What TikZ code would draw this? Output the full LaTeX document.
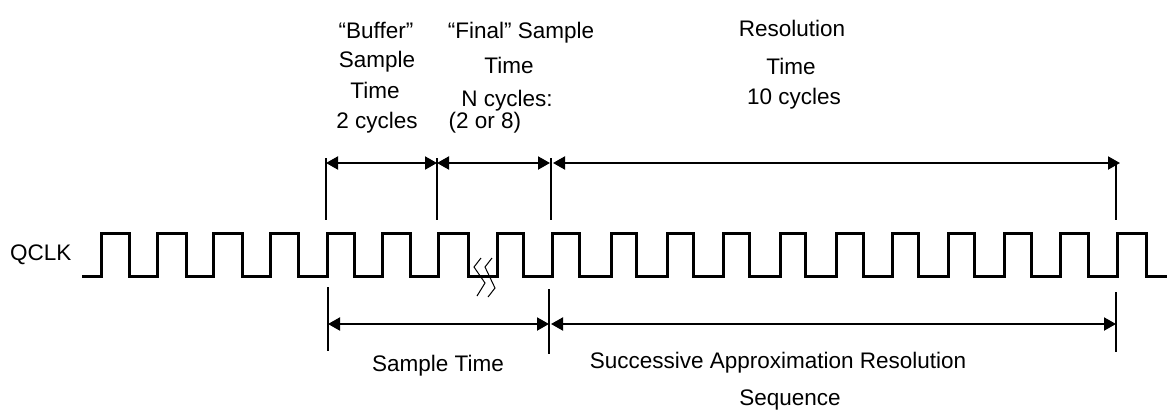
\documentclass[tikz,border=0pt]{standalone}
\usepackage{fontspec}
\setmainfont{Liberation Sans}
\usetikzlibrary{arrows.meta}
\begin{document}
\begin{tikzpicture}[x=1pt,y=-1pt,
  lbl/.style={inner sep=0pt, font=\fontsize{22.5}{27}\selectfont, anchor=base},
  clk/.style={line width=3pt, line join=miter},
  ext/.style={line width=2pt},
  dimarr/.style={line width=2pt, {Triangle[length=12pt,width=13pt]}-{Triangle[length=12pt,width=13pt]}},
  brk/.style={line width=1pt}]
\useasboundingbox (0,0) rectangle (1167,410);

% ---- clock waveform
\draw[clk] (82,276)
  foreach \r/\f in {101/129,157/186,213/242,270/298,327/354,382/410,438/468,497/523,552/579,611/636,667/693,723/749,780/805,836/863,892/918,948/974,1004/1031,1060/1088,1117/1146}
  { -- (\r,276) -- (\r,233) -- (\f,233) -- (\f,276) } -- (1167,276);

% ---- break mark
\draw[brk] (481,258) -- (474,267) -- (485,283) -- (477,296);
\draw[brk] (492,258) -- (485,267) -- (495,288) -- (488,297);

% ---- top extension lines
\coordinate (ta1) at (326,158); \coordinate (tb1) at (326,220);
\coordinate (ta2) at (437,158); \coordinate (tb2) at (437,220);
\coordinate (ta3) at (551,158); \coordinate (tb3) at (551,220);
\coordinate (ta4) at (1116,164); \coordinate (tb4) at (1116,220);
\draw[ext] (ta1) -- (tb1);
\draw[ext] (ta2) -- (tb2);
\draw[ext] (ta3) -- (tb3);
\draw[ext] (ta4) -- (tb4);

% ---- top dimension arrows
\coordinate (t1) at (326,163);
\coordinate (t2) at (437,163);
\coordinate (t3l) at (550,163);
\coordinate (t3r) at (553,163);
\coordinate (t4) at (1120,163);
\draw[dimarr] (t1) -- (t2);
\draw[dimarr] (t2) -- (t3l);
\draw[dimarr] (t3r) -- (t4);

% ---- bottom extension lines
\coordinate (ba1) at (328,287); \coordinate (bb1) at (328,351);
\coordinate (ba2) at (549,289); \coordinate (bb2) at (549,354);
\coordinate (ba3) at (1116,292); \coordinate (bb3) at (1116,352);
\draw[ext] (ba1) -- (bb1);
\draw[ext] (ba2) -- (bb2);
\draw[ext] (ba3) -- (bb3);

% ---- bottom dimension arrows
\coordinate (b1) at (328,324);
\coordinate (b2l) at (549,324);
\coordinate (b2r) at (551,324);
\coordinate (b3) at (1116,324);
\draw[dimarr] (b1) -- (b2l);
\draw[dimarr] (b2r) -- (b3);

% ---- labels
\node[lbl, anchor=base west] (qclk) at (10,260) {QCLK};

\node[lbl] (buf1) at (376,38) {“Buffer”};
\node[lbl] (buf2) at (377,67) {Sample};
\node[lbl] (buf3) at (375,98) {Time};
\node[lbl] (buf4) at (377,128) {2 cycles};

\node[lbl] (fin1) at (521,38) {“Final” Sample};
\node[lbl] (fin2) at (509,73) {Time};
\node[lbl] (fin3) at (507,106) {N cycles:};
\node[lbl] (fin4) at (485,128) {(2 or 8)};

\node[lbl] (res1) at (792,36) {Resolution};
\node[lbl] (res2) at (791,74) {Time};
\node[lbl] (res3) at (794,104) {10 cycles};

\node[lbl] (samp) at (438,371) {Sample Time};
\node[lbl] (sar1) at (778,368) {Successive Approximation Resolution};
\node[lbl] (sar2) at (790,405) {Sequence};
\end{tikzpicture}
\end{document}
